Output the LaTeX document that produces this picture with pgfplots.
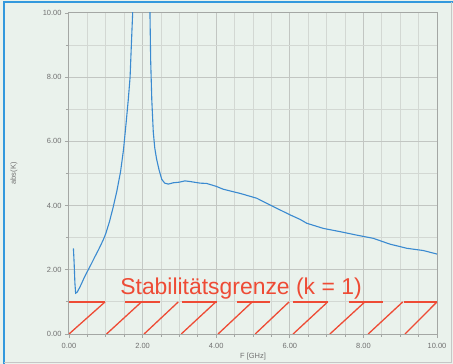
\documentclass[border=0pt]{standalone}
\usepackage{fontspec}
\setmainfont{Liberation Sans}
\usepackage{pgfplots}
\pgfplotsset{compat=1.18}
\definecolor{bgc}{HTML}{EAF2EC}
\definecolor{frameblue}{HTML}{3399DD}
\definecolor{curveblue}{HTML}{3A8AD0}
\definecolor{stabred}{HTML}{EE4B35}
\definecolor{gridc}{HTML}{D3D8D3}
\definecolor{gridd}{HTML}{C2C6C2}
\definecolor{axisc}{HTML}{A4A7A4}
\definecolor{labc}{HTML}{707070}
\begin{document}
\begin{tikzpicture}
\fill[bgc] (-69bp,-30bp) rectangle (384bp,334bp);
\useasboundingbox (-69bp,-30bp) rectangle (384bp,334bp);
\draw[frameblue, line width=1.2bp] (-65bp,-30bp) -- (-65bp,332bp) -- (384bp,332bp);
\draw[gray!45, line width=1bp] (382bp,332bp) -- (382bp,-28bp) -- (-65bp,-28bp);
\begin{axis}[
  scale only axis, width=368bp, height=321bp,
  xmin=0, xmax=10, ymin=0, ymax=10,
  xtick={0,2,...,10}, ytick={0,2,...,10},
  minor x tick num=3, minor y tick num=1,
  grid=both,
  major grid style={gridd, line width=1bp},
  minor grid style={gridc, line width=0.9bp},
  axis line style={axisc, line width=1bp},
  tick style={axisc, line width=0.8bp},
  tick align=outside, major tick length=4bp, minor tick length=3bp,
  xtick pos=bottom, ytick pos=left,
  tick label style={font=\fontsize{7.5}{8}\selectfont, text=labc},
  xticklabel style={yshift=-2bp},
  /pgf/number format/.cd, fixed, fixed zerofill, precision=2, assume math mode=true,
  /pgfplots/.cd,
  xlabel={F [GHz]}, ylabel={abs(K)},
  label style={font=\fontsize{7.5}{8}\selectfont, text=labc},
  xlabel style={at={(axis description cs:0.5,-0.0717)}, anchor=center},
  ylabel style={at={(axis description cs:-0.1495,0.5)}, anchor=center},
]
% blue curve abs(K)
\addplot[curveblue, line width=1.1bp] coordinates {
(0.12,2.67) (0.14,2.2) (0.16,1.6) (0.18,1.27) (0.22,1.3) (0.30,1.47)
(0.40,1.72) (0.50,1.95) (0.60,2.17) (0.70,2.40) (0.80,2.62) (0.93,2.93)
(1.00,3.13) (1.10,3.50) (1.20,3.95) (1.30,4.45) (1.40,5.05) (1.48,5.73)
(1.55,6.55) (1.61,7.29) (1.66,8.0) (1.70,9.16) (1.73,10.0) (1.76,11)
(1.9,13) (2.1,13) (2.19,11) (2.20,10.0) (2.22,8.5) (2.25,7.29)
(2.29,6.30) (2.33,5.80) (2.38,5.45) (2.45,5.10) (2.52,4.82) (2.60,4.70)
(2.70,4.67) (2.83,4.71) (3.00,4.73) (3.15,4.77) (3.29,4.75) (3.56,4.70)
(3.74,4.69) (4.00,4.60) (4.19,4.51) (4.40,4.45) (4.65,4.38) (5.10,4.23)
(5.55,3.97) (6.01,3.71) (6.28,3.57) (6.46,3.45) (6.91,3.29) (7.36,3.19)
(7.82,3.08) (8.27,2.98) (8.72,2.80) (9.18,2.67) (9.63,2.60) (10.0,2.49)
};
% stability boundary bars (k = 1)
\addplot[stabred, line width=2bp, unbounded coords=jump] coordinates {
(0,1) (0.98,1) (0,nan)
(1.52,1) (2.47,1) (0,nan)
(3.06,1) (4.01,1) (0,nan)
(4.56,1) (5.46,1) (0,nan)
(6.10,1) (7.05,1) (0,nan)
(7.60,1) (8.52,1) (0,nan)
(9.10,1) (10,1)
};
% hatch diagonals
\addplot[stabred, line width=1.3bp, unbounded coords=jump] coordinates {
(0,0) (0.98,1) (0,nan)
(1.02,0) (1.97,1) (0,nan)
(2.04,0) (2.97,1) (0,nan)
(3.05,0) (3.99,1) (0,nan)
(4.05,0) (4.98,1) (0,nan)
(5.06,0) (5.98,1) (0,nan)
(6.09,0) (7.03,1) (0,nan)
(7.09,0) (8.04,1) (0,nan)
(8.13,0) (9.07,1) (0,nan)
(9.13,0) (10,1)
};
\node[anchor=base west, text=stabred, font=\fontsize{23}{25}\selectfont, inner sep=0pt]
  at (axis cs:1.39,1.22) {Stabilitätsgrenze (k = 1)};
\end{axis}
\end{tikzpicture}
\end{document}
